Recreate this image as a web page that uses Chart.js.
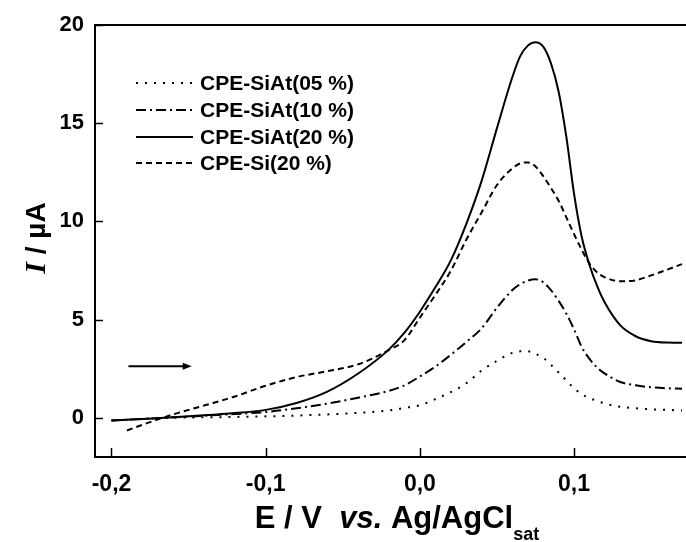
<!DOCTYPE html>
<html><head><meta charset="utf-8">
<script src="https://cdn.jsdelivr.net/npm/chart.js@4/dist/chart.umd.min.js"></script>
<style>html,body{margin:0;padding:0;background:#fff}#wrap{width:686px;height:542px}</style>
</head><body><div id="wrap"><canvas id="c" width="686" height="542"></canvas></div>
<script>
// Potential (V vs Ag/AgCl)
const potential = [-0.20,-0.19,-0.18,-0.16,-0.14,-0.12,-0.10,-0.08,-0.06,-0.04,-0.02,-0.01,0.00,0.01,0.02,0.03,0.04,0.05,0.06,0.065,0.07,0.075,0.08,0.085,0.09,0.095,0.10,0.105,0.11,0.115,0.12,0.13,0.14,0.15,0.16,0.17];
// Current (µA)
const siAt05 = [-0.14,-0.10,-0.06,0.00,0.02,0.04,0.07,0.11,0.17,0.25,0.37,0.50,0.64,0.95,1.30,1.75,2.40,2.90,3.30,3.38,3.38,3.25,3.05,2.70,2.30,1.90,1.50,1.20,1.00,0.85,0.72,0.56,0.48,0.43,0.40,0.37];
const siAt10 = [-0.14,-0.10,-0.06,0.02,0.10,0.19,0.29,0.48,0.72,1.02,1.37,1.65,2.10,2.60,3.20,3.85,4.55,5.60,6.50,6.80,6.98,7.05,6.90,6.50,5.95,5.30,4.50,3.60,3.00,2.55,2.25,1.82,1.65,1.55,1.50,1.48];
const siAt20 = [-0.14,-0.10,-0.06,0.02,0.12,0.24,0.40,0.75,1.33,2.25,3.48,4.33,5.40,6.64,8.00,9.85,12.05,14.75,17.35,18.40,18.95,19.12,18.90,18.05,16.60,14.30,11.40,9.20,7.78,6.70,5.85,4.70,4.15,3.90,3.83,3.82];
const si20   = [null,-0.65,-0.36,0.17,0.62,1.08,1.63,2.07,2.37,2.72,3.45,3.95,5.10,6.25,7.47,9.05,10.45,11.85,12.70,12.95,13.00,12.80,12.30,11.70,11.05,10.20,9.35,8.55,7.85,7.40,7.15,6.95,7.00,7.25,7.53,7.82];
const seriesNames = ["CPE-SiAt(05 %)","CPE-SiAt(10 %)","CPE-SiAt(20 %)","CPE-Si(20 %)"];
const xTicks = [-0.2,-0.1,0.0,0.1];
const yTicks = [0,5,10,15,20];
const arrowFrom = [-0.189, 2.62];
const arrowTo = [-0.148, 2.62];

const FONT = '"Liberation Sans", Arial, sans-serif';
const dashes = [[2,7],[10,4,2,4],[],[6,4]];
const seriesData = [siAt05, siAt10, siAt20, si20];

const datasets = seriesData.map((arr, k) => ({
  label: seriesNames[k],
  data: potential.map((x, i) => ({x: x, y: arr[i]})),
  borderColor: '#000',
  backgroundColor: '#000',
  borderWidth: 2,
  borderDash: dashes[k],
  pointRadius: 0,
  cubicInterpolationMode: 'monotone',
  spanGaps: false,
  fill: false
}));

const decor = {
  id: 'decor',
  afterDraw(chart) {
    const ctx = chart.ctx, a = chart.chartArea;
    const xs = chart.scales.x, ys = chart.scales.y;
    ctx.save();
    ctx.strokeStyle = '#000';
    ctx.fillStyle = '#000';
    // top frame line
    ctx.lineWidth = 2;
    ctx.setLineDash([]);
    ctx.beginPath(); ctx.moveTo(a.left, a.top); ctx.lineTo(a.right, a.top); ctx.stroke();
    // inner ticks
    ctx.lineWidth = 1.5;
    xTicks.forEach(v => { const p = Math.round(xs.getPixelForValue(v)) + 0.5; ctx.beginPath(); ctx.moveTo(p, a.bottom); ctx.lineTo(p, a.bottom - 9); ctx.stroke(); });
    yTicks.forEach(v => { const p = Math.round(ys.getPixelForValue(v)) + 0.5; ctx.beginPath(); ctx.moveTo(a.left, p); ctx.lineTo(a.left + 8, p); ctx.stroke(); });
    // arrow
    const ax0 = xs.getPixelForValue(arrowFrom[0]), ay = ys.getPixelForValue(arrowFrom[1]);
    const ax1 = xs.getPixelForValue(arrowTo[0]);
    ctx.lineWidth = 2;
    ctx.beginPath(); ctx.moveTo(ax0, ay); ctx.lineTo(ax1 - 6, ay); ctx.stroke();
    ctx.beginPath(); ctx.moveTo(ax1, ay); ctx.lineTo(ax1 - 9, ay - 3.5); ctx.lineTo(ax1 - 9, ay + 3.5); ctx.closePath(); ctx.fill();
    // legend
    const rows = [83, 110, 137, 163];
    ctx.font = 'bold 21px ' + FONT;
    ctx.textBaseline = 'middle';
    ctx.textAlign = 'left';
    seriesNames.forEach((n, k) => {
      ctx.setLineDash(dashes[k]);
      ctx.lineWidth = 2;
      ctx.beginPath(); ctx.moveTo(136, rows[k]); ctx.lineTo(193, rows[k]); ctx.stroke();
      ctx.setLineDash([]);
      ctx.fillText(n, 200, rows[k] + 1);
    });
    // x title
    const parts = [
      ['E / V  ', 'bold 31px ' + FONT, 0],
      ['vs.', 'italic bold 31px ' + FONT, 0],
      [' Ag/AgCl', 'bold 31px ' + FONT, 0],
      ['sat', 'bold 18px ' + FONT, 12]
    ];
    ctx.textBaseline = 'alphabetic';
    let tw = 0;
    parts.forEach(p => { ctx.font = p[1]; tw += ctx.measureText(p[0]).width; });
    let x = 397 - tw / 2;
    parts.forEach(p => { ctx.font = p[1]; ctx.fillText(p[0], x, 528 + p[2]); x += ctx.measureText(p[0]).width; });
    // y title
    ctx.translate(45, 238);
    ctx.rotate(-Math.PI / 2);
    const yp = [['I', 'italic bold 30px "Liberation Serif", "Times New Roman", serif'], [' / µA', 'bold 28px ' + FONT]];
    let yw = 0;
    yp.forEach(p => { ctx.font = p[1]; yw += ctx.measureText(p[0]).width; });
    let yx = -yw / 2;
    yp.forEach(p => { ctx.font = p[1]; ctx.fillText(p[0], yx, 0); yx += ctx.measureText(p[0]).width; });
    ctx.restore();
  }
};

new Chart(document.getElementById('c'), {
  type: 'line',
  data: { datasets: datasets },
  options: {
    responsive: false,
    animation: false,
    devicePixelRatio: 1,
    layout: { padding: { top: 25, left: 0, right: 0, bottom: 0 } },
    plugins: { legend: { display: false }, tooltip: { enabled: false } },
    scales: {
      x: {
        type: 'linear', min: -0.2107, max: 0.1726,
        afterBuildTicks: s => { s.ticks = xTicks.map(v => ({value: v})); },
        afterFit: s => { s.height = 85; },
        grid: { display: false, drawTicks: false },
        border: { display: true, color: '#000', width: 2 },
        ticks: { color: '#000', padding: 14, maxRotation: 0, autoSkip: false,
          font: { family: FONT, size: 23, weight: 'bold' },
          callback: v => v.toFixed(1).replace('.', ',').replace('-0,0', '0,0') }
      },
      y: {
        type: 'linear', min: -2, max: 20,
        afterBuildTicks: s => { s.ticks = yTicks.map(v => ({value: v})); },
        afterFit: s => { s.width = 95; },
        grid: { display: false, drawTicks: false },
        border: { display: true, color: '#000', width: 2 },
        ticks: { color: '#000', padding: 11, autoSkip: false,
          font: { family: FONT, size: 22, weight: 'bold' },
          callback: v => String(v) }
      }
    }
  },
  plugins: [decor]
});
</script></body></html>
